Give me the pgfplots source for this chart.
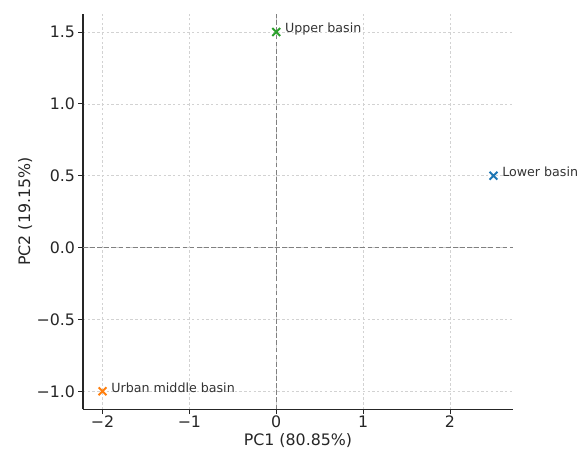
\documentclass[border=0pt]{standalone}
\usepackage{fontspec}
\setmainfont{DejaVu Sans}
\usepackage{pgfplots}
\pgfplotsset{compat=1.18}
\usetikzlibrary{calc}
\definecolor{tabblue}{HTML}{1F77B4}
\definecolor{taborange}{HTML}{FF7F0E}
\definecolor{tabgreen}{HTML}{2CA02C}

\pgfplotsset{
  pcpoint/.style={only marks, mark=x, mark size=3.5pt, line width=1.2pt,
    nodes near coords, point meta=explicit symbolic,
    nodes near coords style={anchor=base west, inner sep=0pt, xshift=5pt, yshift=-0.5pt,
      text=black!80, font=\fontsize{8}{9.6}\selectfont}},
}

\begin{document}
\begin{tikzpicture}
\begin{axis}[
    name=ax,
    width=272pt, height=250pt, scale only axis,
    xmin=-2.225, xmax=2.725, ymin=-1.125, ymax=1.625,
    axis x line*=bottom, axis y line*=left,
    axis line style={black!85, line width=0.8pt},
    xtick={-2,-1,0,1,2}, xticklabels={−2,−1,0,1,2},
    ytick={-1,-0.5,0,0.5,1,1.5}, yticklabels={−1.0,−0.5,0.0,0.5,1.0,1.5},
    tick align=outside, major tick length=3pt,
    tick style={black!85, line width=0.6pt},
    grid=major, major grid style={gray!35, dash pattern=on 1.5pt off 1.5pt, line width=0.4pt},
    tick label style={font=\fontsize{10}{12}\selectfont, text=black!85},
    label style={font=\fontsize{10}{12}\selectfont, text=black!85},
    xticklabel style={yshift=2.5pt},
    yticklabel style={xshift=1.5pt},
    xlabel style={yshift=3pt},
    ylabel style={yshift=-4pt},
    xlabel={PC1 (80.85\%)}, ylabel={PC2 (19.15\%)},
    clip=false,
]
% zero reference lines
\addplot[gray, dash pattern=on 3pt off 1.5pt, line width=0.5pt] coordinates {(0,-1.125) (0,1.625)};
\addplot[gray, dash pattern=on 3pt off 1.5pt, line width=0.5pt] coordinates {(-2.225,0) (2.725,0)};

\addplot[pcpoint, color=tabblue] table[meta=label] {
x y label
2.5 0.5 {Lower basin}
};
\addplot[pcpoint, color=taborange] table[meta=label] {
x y label
-2.0 -1.0 {Urban middle basin}
};
\addplot[pcpoint, color=tabgreen] table[meta=label] {
x y label
0.0 1.5 {Upper basin}
};
\end{axis}
\pgfresetboundingbox
\path[use as bounding box] ($(ax.south west)+(-52.5pt,-26pt)$) rectangle ($(ax.north east)+(44.3pt,8.9pt)$);
\end{tikzpicture}
\end{document}
